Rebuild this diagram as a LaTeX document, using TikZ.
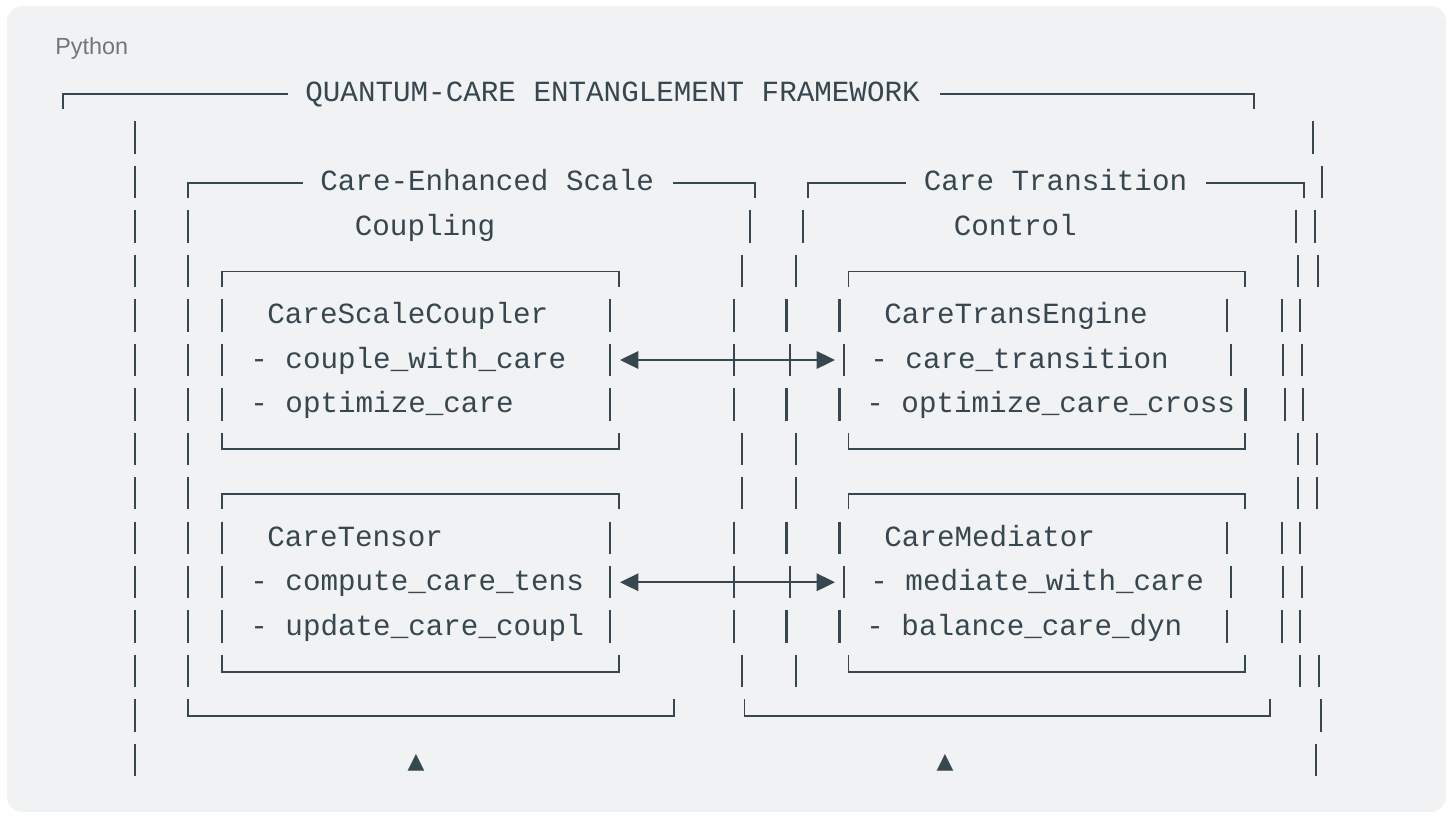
\documentclass[tikz,border=0pt]{standalone}
\usepackage{fontspec}
\usepackage{xcolor}
\usepackage{tikz}
\usetikzlibrary{arrows.meta}
\setmainfont{Liberation Sans}
\newfontfamily\codefont{Liberation Mono}
\newfontfamily\symfont{DejaVu Sans}
\definecolor{inkslate}{HTML}{37474F}
\definecolor{panelgray}{HTML}{F1F2F4}
\definecolor{labelgray}{HTML}{757575}
% baseline of text row #1
\newcommand{\rowb}[1]{101.7+44.45*#1}
\tikzset{
  codetext/.style={anchor=base west, inner sep=0pt, text=inkslate,
                   font=\codefont\fontsize{16.65pt}{20pt}\selectfont},
  vbar/.style={draw=inkslate, line width=1.2pt},
  boxline/.style={draw=inkslate, line width=1.1pt},
  link/.style={boxline, {Triangle[length=10.5pt,width=10pt]}-{Triangle[length=10.5pt,width=10pt]}},
  marker/.style={anchor=base, inner sep=0pt, text=inkslate,
                 font=\symfont\fontsize{12.5pt}{14pt}\selectfont}
}

\begin{document}
\begin{tikzpicture}[x=0.02cm, y=-0.02cm]
  \useasboundingbox (0,0) rectangle (1453,818);
  \fill[white] (0,0) rectangle (1453,818);
  \fill[panelgray, rounded corners=9pt] (7,6) rectangle (1446,812);

  \node[anchor=base west, inner sep=0pt, text=labelgray,
        font=\fontsize{13.3pt}{16pt}\selectfont] (lang) at (55,54.3) {Python};

  % outer frame
  \node[codetext] (title) at (305,\rowb{0}) {QUANTUM-CARE ENTANGLEMENT FRAMEWORK};
  \draw[boxline] (63,\rowb{0}+7.5) |- (288,\rowb{0}-8);
  \draw[boxline] (940,\rowb{0}-8) -| (1254,\rowb{0}+7.5);

  % group frames
  \node[codetext] (cplhead) at (320,\rowb{2}) {Care-Enhanced Scale};
  \node[codetext] (cplsub) at (354.5,\rowb{3}) {Coupling};
  \draw[boxline] (188,\rowb{2}+7.7) |- (303,\rowb{2}-8);
  \draw[boxline] (673,\rowb{2}-8) -| (755,\rowb{2}+7.7);
  \node[codetext] (ctlhead) at (923.5,\rowb{2}) {Care Transition};
  \node[codetext] (ctlsub) at (953.5,\rowb{3}) {Control};
  \draw[boxline] (808,\rowb{2}+7.7) |- (906,\rowb{2}-8);
  \draw[boxline] (1206,\rowb{2}-8) -| (1304,\rowb{2}+7.7);
  \draw[boxline] (188,\rowb{14}-24.7) |- (674,\rowb{14}-8) -- (674,\rowb{14}-24.7);
  \draw[boxline] (744.5,\rowb{14}-24.7) |- (1270,\rowb{14}-8) -- (1270,\rowb{14}-24.7);

  % class boxes, tops at rows 4/9, bottoms at rows 8/13
  \foreach \t/\u in {4/8, 9/13} {
    \foreach \xl/\xr in {222/619, 848.5/1245} {
      \draw[boxline] (\xl,\rowb{\t}+7.5) |- (\xr,\rowb{\t}-8) -- (\xr,\rowb{\t}+7.5);
      \draw[boxline] (\xl,\rowb{\u}-24.7) |- (\xr,\rowb{\u}-8) -- (\xr,\rowb{\u}-24.7);
    }
  }

  % the | pieces of every row
  \foreach \r/\xs in {1/{135,1313}, 2/{135,1322},
      3/{135,188,750,803,1296,1315}, 4/{135,188,742,796,1298,1318},
      5/{135,188,222,610,734,786.5,839.5,1227,1282,1300},
      6/{135,188,222,610,734,790,844,1231,1283,1302},
      7/{135,188,222,610,734,786.5,839.5,1245.5,1285,1303},
      8/{135,188,742,796,1298,1317}, 9/{135,188,742,796,1298,1317},
      10/{135,188,222,610,734,786.5,839.5,1227,1282,1300},
      11/{135,188,222,610,734,790,844,1231,1283,1302},
      12/{135,188,222,610,734,786.5,839.5,1227,1282,1300},
      13/{135,188,742,796,1300,1319}, 14/{135,1321}, 15/{135,1316}} {
    \pgfmathsetmacro\b{\rowb{\r}}
    \foreach \x in \xs
      \draw[vbar] (\x,\b-24.7) -- (\x,\b+7.7);
  }

  % classes
  \node[codetext] (coupler)  at (267,\rowb{5})  {CareScaleCoupler};
  \node[codetext] (couplerA) at (250,\rowb{6})  {- couple\_with\_care};
  \node[codetext] (couplerB) at (250,\rowb{7})  {- optimize\_care};
  \node[codetext] (tensor)   at (267,\rowb{10}) {CareTensor};
  \node[codetext] (tensorA)  at (250,\rowb{11}) {- compute\_care\_tens};
  \node[codetext] (tensorB)  at (250,\rowb{12}) {- update\_care\_coupl};
  \node[codetext] (engine)   at (884,\rowb{5})  {CareTransEngine};
  \node[codetext] (engineA)  at (870,\rowb{6})  {- care\_transition};
  \node[codetext] (engineB)  at (866,\rowb{7})  {- optimize\_care\_cross};
  \node[codetext] (mediator) at (884,\rowb{10}) {CareMediator};
  \node[codetext] (mediatorA) at (870,\rowb{11}) {- mediate\_with\_care};
  \node[codetext] (mediatorB) at (866,\rowb{12}) {- balance\_care\_dyn};

  % links between the two groups
  \coordinate (couplerport)  at (620,\rowb{6}-8.4);
  \coordinate (engineport)   at (835,\rowb{6}-8.4);
  \coordinate (tensorport)   at (620,\rowb{11}-8.4);
  \coordinate (mediatorport) at (835,\rowb{11}-8.4);
  \draw[link] (couplerport) -- (engineport);
  \draw[link] (tensorport) -- (mediatorport);

  \node[marker] (upL) at (416,\rowb{15}) {▲};
  \node[marker] (upR) at (945,\rowb{15}) {▲};
\end{tikzpicture}
\end{document}
